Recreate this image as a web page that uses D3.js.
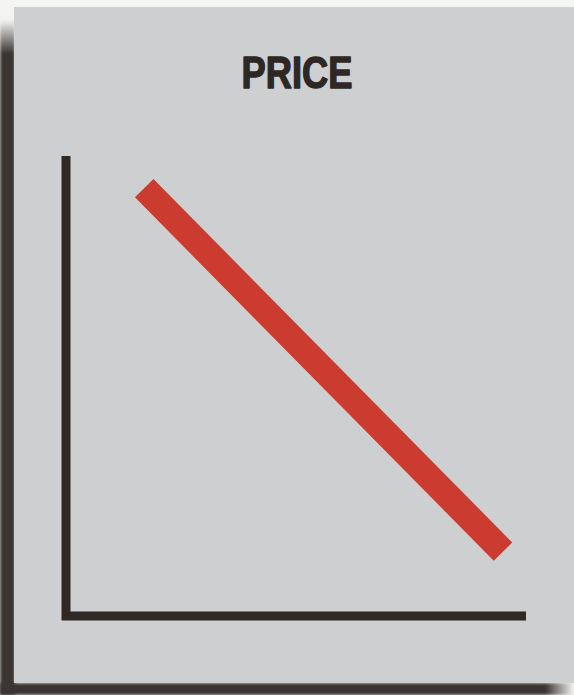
<!DOCTYPE html>
<html>
<head>
<meta charset="utf-8">
<script src="https://cdn.jsdelivr.net/npm/d3@7/dist/d3.min.js"></script>
<style>
  html, body { margin: 0; padding: 0; background: #f4f4f2; }
  svg { display: block; }
</style>
</head>
<body>
<svg id="chart" width="574" height="695"></svg>
<script>
// Data (conceptual downward-sloping price line)
const title = "PRICE";
const quantity = [17, 95];
const price = [93, 14];
const xDomain = [0, 100];
const yDomain = [0, 100];

const W = 574, H = 695;
const svg = d3.select("#chart");

const defs = svg.append("defs");
const gl = defs.append("linearGradient").attr("id", "shadowL").attr("x1", 0).attr("y1", 0).attr("x2", 0).attr("y2", 1);
gl.append("stop").attr("offset", "0").attr("stop-color", "#3a3432").attr("stop-opacity", 0);
gl.append("stop").attr("offset", "0.05").attr("stop-color", "#3a3432").attr("stop-opacity", 1);
gl.append("stop").attr("offset", "1").attr("stop-color", "#3a3432").attr("stop-opacity", 1);
const gb = defs.append("linearGradient").attr("id", "shadowB").attr("x1", 0).attr("y1", 0).attr("x2", 1).attr("y2", 0);
gb.append("stop").attr("offset", "0").attr("stop-color", "#3a3432").attr("stop-opacity", 1);
gb.append("stop").attr("offset", "0.95").attr("stop-color", "#3a3432").attr("stop-opacity", 1);
gb.append("stop").attr("offset", "1").attr("stop-color", "#3a3432").attr("stop-opacity", 0);
defs.append("filter").attr("id", "blur").append("feGaussianBlur").attr("stdDeviation", 1.5);

// page background
svg.append("rect").attr("width", W).attr("height", H).attr("fill", "#f4f4f2");
// shadows
svg.append("rect").attr("x", 0).attr("y", 20).attr("width", 15).attr("height", H - 20)
  .attr("fill", "url(#shadowL)").attr("filter", "url(#blur)");
svg.append("rect").attr("x", 0).attr("y", 683).attr("width", 574).attr("height", 12)
  .attr("fill", "url(#shadowB)").attr("filter", "url(#blur)");
// card
svg.append("rect").attr("x", 14).attr("y", 7).attr("width", W - 14).attr("height", 676)
  .attr("fill", "#cecfd0");

const x = d3.scaleLinear().domain(xDomain).range([66, 526]);
const y = d3.scaleLinear().domain(yDomain).range([616, 156]);

// axes (drawn as a single L-shaped stroke from the scales)
const axisPath = d3.path();
axisPath.moveTo(x(0), y(100));
axisPath.lineTo(x(0), y(0));
axisPath.lineTo(x(100), y(0));
svg.append("path").attr("d", axisPath.toString())
  .attr("fill", "none").attr("stroke", "#2f2825").attr("stroke-width", 9)
  .attr("stroke-linejoin", "miter").attr("stroke-linecap", "butt");

// price line
const pts = quantity.map((q, i) => [q, price[i]]);
svg.append("path")
  .attr("d", d3.line().x(d => x(d[0])).y(d => y(d[1]))(pts))
  .attr("fill", "none").attr("stroke", "#cc3b2f").attr("stroke-width", 26)
  .attr("stroke-linecap", "butt");

// title
svg.append("text").attr("x", 241.5).attr("y", 88)
  .attr("font-family", "'Liberation Sans', Arial, sans-serif")
  .attr("font-weight", "bold").attr("font-size", 44)
  .attr("textLength", 111).attr("lengthAdjust", "spacingAndGlyphs")
  .attr("fill", "#2e2724")
  .attr("stroke", "#2e2724").attr("stroke-width", 1.4).attr("stroke-linejoin", "round")
  .text(title);
</script>
</body>
</html>
